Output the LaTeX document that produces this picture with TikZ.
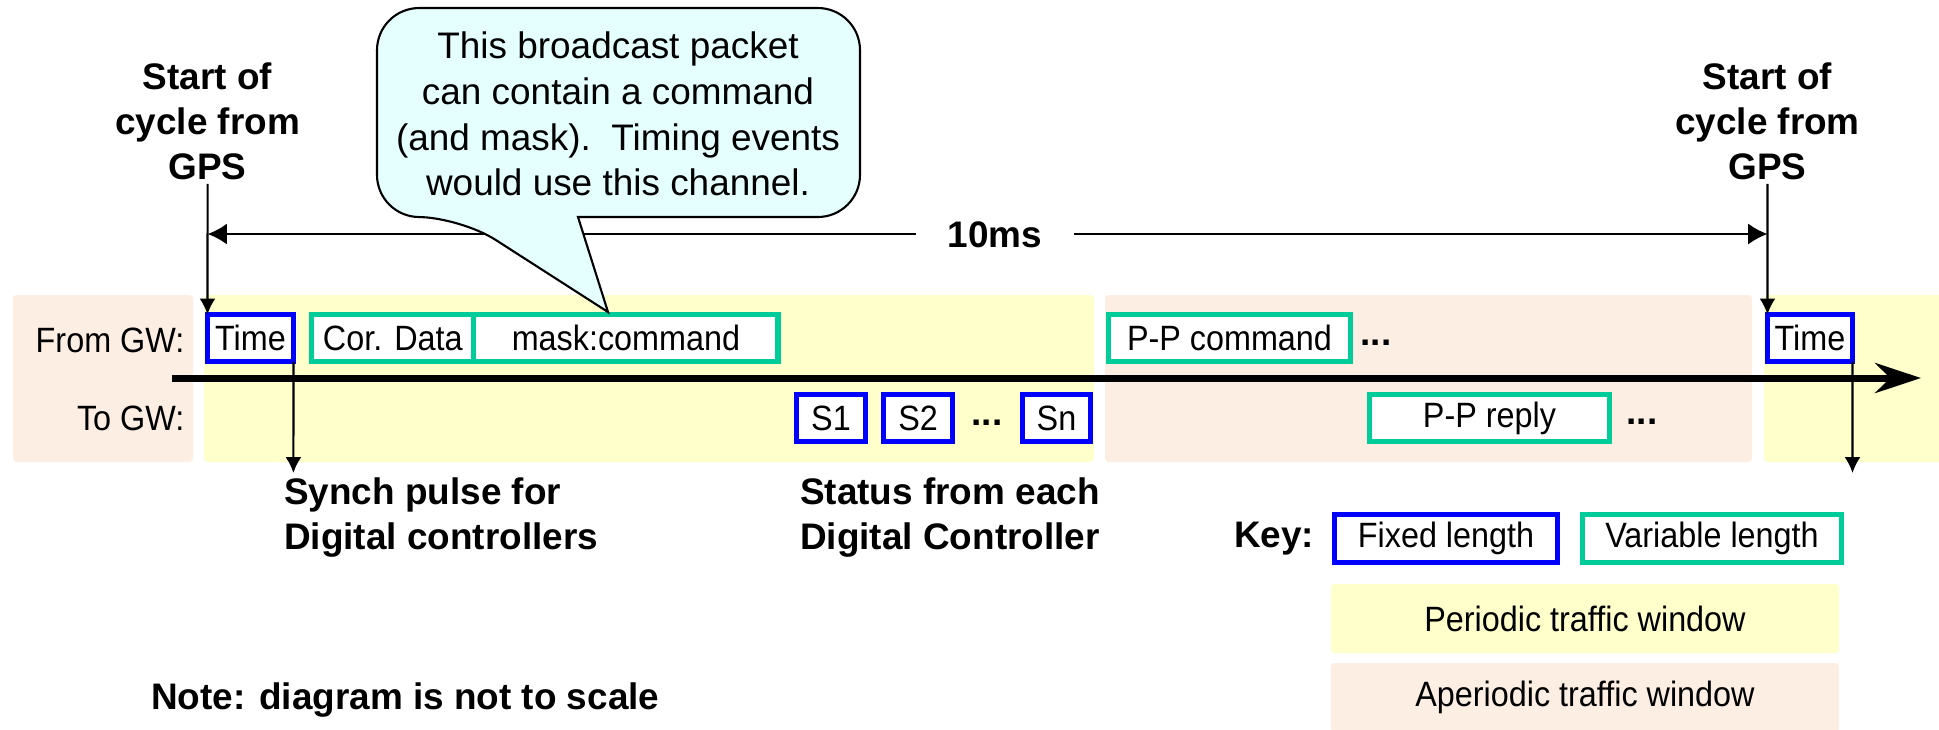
\documentclass[tikz,border=0pt]{standalone}
\usepackage{fontspec}
\setmainfont{Liberation Sans}
\newfontfamily\narrowfont[FakeStretch=0.92]{Liberation Sans}
\usepackage{tikz}
\usetikzlibrary{arrows.meta,positioning}
\definecolor{fixblue}{RGB}{0,0,255}
\definecolor{vargreen}{RGB}{0,204,153}
\definecolor{perfill}{RGB}{255,255,204}
\definecolor{aperfill}{RGB}{253,238,228}
\definecolor{bubblefill}{RGB}{229,255,255}
\tikzset{
  fixbox/.style = {draw=fixblue, fill=white, line width=1.5pt, rectangle, outer sep=0pt, inner sep=0pt, minimum height=0.47cm, font=\narrowfont\fontsize{10}{12}\selectfont},
  varbox/.style = {fixbox, draw=vargreen},
  rowlbl/.style = {anchor=east, inner sep=0pt, font=\narrowfont\fontsize{10}{12}\selectfont},
  lbl/.style = {align=center, inner sep=1pt, font=\bfseries\fontsize{10.5}{12.8}\selectfont},
  moredots/.style = {inner sep=0pt, font=\bfseries\fontsize{10.5}{12}\selectfont},
  winbox/.style = {rectangle, rounded corners=1pt, outer sep=0pt, inner sep=0pt, minimum width=5.08cm, minimum height=0.69cm, font=\narrowfont\fontsize{10}{12}\selectfont},
  timeline/.style = {line width=2pt, -{Stealth[length=13pt,width=8.5pt]}},
  pulse/.style = {line width=0.6pt, -{Latex[length=4.5pt,width=4.5pt]}},
  cyclespan/.style = {line width=0.6pt, {Latex[length=5.5pt,width=6pt]}-{Latex[length=5.5pt,width=6pt]}},
  bubbleshape/.style = {draw=black, fill=bubblefill, line width=0.6pt}
}
\begin{document}
\begin{tikzpicture}[x=0.01cm, y=-0.01cm]
  \useasboundingbox (0,0) rectangle (1939,729);
  % traffic windows
  \fill[aperfill, rounded corners=1pt] (13,295) rectangle (193,462);
  \fill[perfill, rounded corners=1pt] (204,295) rectangle (1094,462);
  \fill[aperfill, rounded corners=1pt] (1105,295) rectangle (1752,462);
  \fill[perfill, rounded corners=1pt] (1764,295) rectangle (1950,462);

  \node[rowlbl] (from) at (185,340) {From GW:};
  \node[rowlbl] (to) at (185,418) {To GW:};

  \node[fixbox, minimum width=0.86cm] (timeL) at (250.5,338) {Time};
  \node[varbox, minimum width=1.62cm] (cor) at (392.8,338) {Cor. Data};
  \node[varbox, minimum width=3.04cm, right=0pt of cor] (mask) {mask:command};
  \node[varbox, minimum width=2.42cm] (ppcmd) at (1229.5,338) {P-P command};
  \node[moredots] (cmddots) at (1376,343) {...};
  \node[fixbox, minimum width=0.85cm] (timeR) at (1810,338) {Time};

  \node[fixbox, minimum width=0.69cm] (s1) at (831,418) {S1};
  \node[fixbox, minimum width=0.69cm, right=0.18cm of s1] (s2) {S2};
  \node[moredots] (sdots) at (987,423) {...};
  \node[fixbox, minimum width=0.68cm] (sn) at (1056.5,418) {Sn};
  \node[varbox, minimum width=2.40cm] (ppreply) at (1489.5,418) {P-P reply};
  \node[moredots] (replydots) at (1642,422) {...};

  \coordinate (tstart) at (172,378);
  \coordinate (tend) at (1921,378);
  \draw[timeline] (tstart) -- (tend);

  % start of cycle
  \node[lbl] (gpsL) at (207.6,121) {Start of\\cycle from\\GPS};
  \node[lbl] (gpsR) at (1767.5,121) {Start of\\cycle from\\GPS};
  \draw[pulse] (gpsL.south) -- (timeL.north west);
  \draw[pulse] (gpsR.south) -- (timeR.north west);
  \coordinate (msL) at (207.6,234);
  \coordinate (msR) at (1767.5,234);
  \draw[cyclespan] (msL) -- (msR);
  \node[lbl, fill=white, inner xsep=9pt] (ms) at (995,235) {10ms};

  % synch pulses
  \coordinate (synchL) at (293.4,473);
  \coordinate (synchR) at (1852.5,473);
  \draw[pulse] (timeL.south east) -- (synchL);
  \draw[pulse] (timeR.south east) -- (synchR);

  \node[lbl, anchor=west, align=left] (synch) at (280,518) {Synch pulse for\\Digital controllers};
  \node[lbl, anchor=west, align=left] (status) at (796,518) {Status from each\\Digital Controller};
  \node[lbl, anchor=west] (note) at (147,700) {Note: diagram is not to scale};

  % key
  \node[fixbox, minimum width=2.23cm, minimum height=0.48cm] (keyfix) at (1446,538.5) {Fixed length};
  \node[varbox, minimum width=2.59cm, minimum height=0.48cm] (keyvar) at (1712,538.5) {Variable length};
  \node[lbl, left=0.16cm of keyfix] (key) {Key:};
  \node[winbox, fill=perfill] (perkey) at (1585,618.5) {Periodic traffic window};
  \node[winbox, fill=aperfill, below=0.1cm of perkey] (aperkey) {Aperiodic traffic window};

  % callout
  \coordinate (tip) at (608,312);
  \draw[bubbleshape] (700,217) [rounded corners=12pt] -- (860,217) -- (860,8) -- (377,8) -- (377,217) -- (460,217) [sharp corners] -- (tip) -- (578,217) -- cycle;
  \node[align=center, inner sep=0pt, font=\fontsize{10.5}{13}\selectfont] (bubbletext) at (618,114) {This broadcast packet\\can contain a command\\(and mask).\ \ Timing events\\would use this channel.};
\end{tikzpicture}
\end{document}
